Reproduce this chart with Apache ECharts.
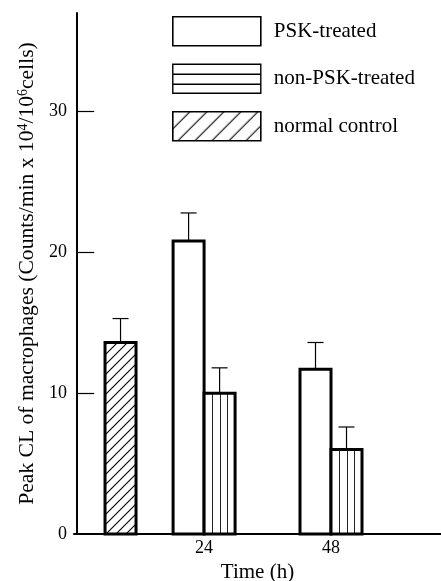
<!DOCTYPE html>
<html>
<head>
<meta charset="utf-8">
<script src="https://cdn.jsdelivr.net/npm/echarts@6/dist/echarts.min.js"></script>
<style>
  html, body { margin: 0; padding: 0; background: #fff; }
  #chart { width: 441px; height: 581px; }
</style>
</head>
<body>
<div id="chart"></div>
<script>
// data (time in h, peak CL, SE)
var pskTime = [24, 48];
var pskMean = [20.8, 11.7];
var pskErr = [2.0, 1.9];
var nonPskTime = [24, 48];
var nonPskMean = [10.0, 6.0];
var nonPskErr = [1.8, 1.6];
var controlTime = [8.2];
var controlMean = [13.6];
var controlErr = [1.7];
var yTicks = [0, 10, 20, 30];
var xTicks = [24, 48];

var FONT = "'Liberation Serif', 'DejaVu Serif', serif";
var BAR_W = 31;

// hatch pattern (diagonal lines)
function hatch(step) {
	var c = document.createElement('canvas');
	c.width = step;
	c.height = step;
	var ctx = c.getContext('2d');
	ctx.fillStyle = '#fff';
	ctx.fillRect(0, 0, step, step);
	ctx.strokeStyle = '#000';
	ctx.lineWidth = 1.1;
	ctx.beginPath();
	ctx.moveTo(-1, step + 1);
	ctx.lineTo(step + 1, -1);
	ctx.moveTo(-1, 1);
	ctx.lineTo(1, -1);
	ctx.moveTo(step - 1, step + 1);
	ctx.lineTo(step + 1, step - 1);
	ctx.stroke();
	return { image: c, repeat: 'repeat' };
}
var barHatch = hatch(10);
var legendHatch = hatch(17);

function zip(t, m, e) {
	return t.map(function (v, i) { return [v, m[i], e[i]]; });
}

// bars + error bars drawn through the axes
function barRenderer(offset, fill, stripes) {
	return function (params, api) {
		var x = api.value(0), y = api.value(1), e = api.value(2);
		var top = api.coord([x, y]);
		var base = api.coord([x, 0]);
		var errTop = api.coord([x, y + e]);
		var cx = top[0] + offset * BAR_W;
		var left = cx - BAR_W / 2;
		var children = [];
		children.push({
			type: 'rect',
			shape: { x: left, y: top[1], width: BAR_W, height: base[1] - top[1] },
			style: { fill: fill, stroke: null }
		});
		if (stripes) {
			for (var k = 1; k <= 3; k++) {
				var lx = Math.round(left + BAR_W * k / 4) + 0.5;
				children.push({
					type: 'line',
					shape: { x1: lx, y1: top[1], x2: lx, y2: base[1] },
					style: { stroke: '#222', lineWidth: 1 }
				});
			}
		}
		children.push({
			type: 'rect',
			shape: { x: left, y: top[1], width: BAR_W, height: base[1] - top[1] },
			style: { fill: null, stroke: '#000', lineWidth: 3 }
		});
		// error bar (upper only)
		children.push({
			type: 'line',
			shape: { x1: cx, y1: top[1], x2: cx, y2: errTop[1] },
			style: { stroke: '#000', lineWidth: 1.2 }
		});
		children.push({
			type: 'line',
			shape: { x1: cx - 8, y1: errTop[1], x2: cx + 8, y2: errTop[1] },
			style: { stroke: '#000', lineWidth: 1.2 }
		});
		return { type: 'group', children: children };
	};
}

var chart = echarts.init(document.getElementById('chart'), null, { renderer: 'canvas' });

chart.setOption({
	animation: false,
	backgroundColor: '#fff',
	grid: { left: 74, right: 0, top: 13, bottom: 47, outerBoundsMode: 'none' },
	legend: {
		orient: 'vertical',
		left: 167,
		top: 11,
		itemWidth: 88,
		itemHeight: 29,
		itemGap: 17,
		selectedMode: false,
		textStyle: { fontFamily: FONT, fontSize: 21, color: '#000', padding: [0, 0, 0, 8] },
		data: [
			{ name: 'PSK-treated', icon: 'rect', itemStyle: { color: '#fff', borderColor: '#000', borderWidth: 1.6 } },
			{ name: 'non-PSK-treated', icon: 'path://M0,0H88V29H0Z M0,10H88 M0,20H88', itemStyle: { color: '#fff', borderColor: '#000', borderWidth: 1.4 } },
			{ name: 'normal control', icon: 'rect', itemStyle: { color: legendHatch, borderColor: '#000', borderWidth: 1.6 } }
		]
	},
	xAxis: {
		type: 'value',
		min: -0.6,
		max: 68.8,
		name: 'Time (h)',
		nameLocation: 'middle',
		nameGap: 25,
		nameTextStyle: { fontFamily: FONT, fontSize: 21, color: '#000' },
		axisLine: { show: true, lineStyle: { color: '#000', width: 2 } },
		axisTick: { show: false },
		splitLine: { show: false },
		axisLabel: { customValues: xTicks, fontFamily: FONT, fontSize: 18, color: '#000', margin: 5 }
	},
	yAxis: {
		type: 'value',
		min: 0,
		max: 37,
		interval: 10,
		name: 'Peak CL of macrophages (Counts/min x 10{sup|4}/10{sup|6}cells)',
		nameLocation: 'middle',
		nameGap: 34,
		nameTextStyle: {
			fontFamily: FONT, fontSize: 21.6, color: '#000',
			rich: { sup: { fontFamily: FONT, fontSize: 14, color: '#000', verticalAlign: 'top' } }
		},
		axisLine: { show: true, lineStyle: { color: '#000', width: 2 } },
		axisTick: { show: true, inside: true, length: 17, customValues: [10, 20, 30], lineStyle: { color: '#000', width: 1.2 } },
		splitLine: { show: false },
		axisLabel: { customValues: yTicks, fontFamily: FONT, fontSize: 18, color: '#000', margin: 7 }
	},
	series: [
		{
			name: 'PSK-treated',
			type: 'custom',
			renderItem: barRenderer(-0.5, '#fff', false),
			itemStyle: { color: '#fff', borderColor: '#000' },
			data: zip(pskTime, pskMean, pskErr)
		},
		{
			name: 'non-PSK-treated',
			type: 'custom',
			renderItem: barRenderer(0.5, '#fff', true),
			itemStyle: { color: '#fff', borderColor: '#000' },
			data: zip(nonPskTime, nonPskMean, nonPskErr)
		},
		{
			name: 'normal control',
			type: 'custom',
			renderItem: barRenderer(0, barHatch, false),
			itemStyle: { color: '#fff', borderColor: '#000' },
			data: zip(controlTime, controlMean, controlErr)
		}
	]
});
</script>
</body>
</html>
